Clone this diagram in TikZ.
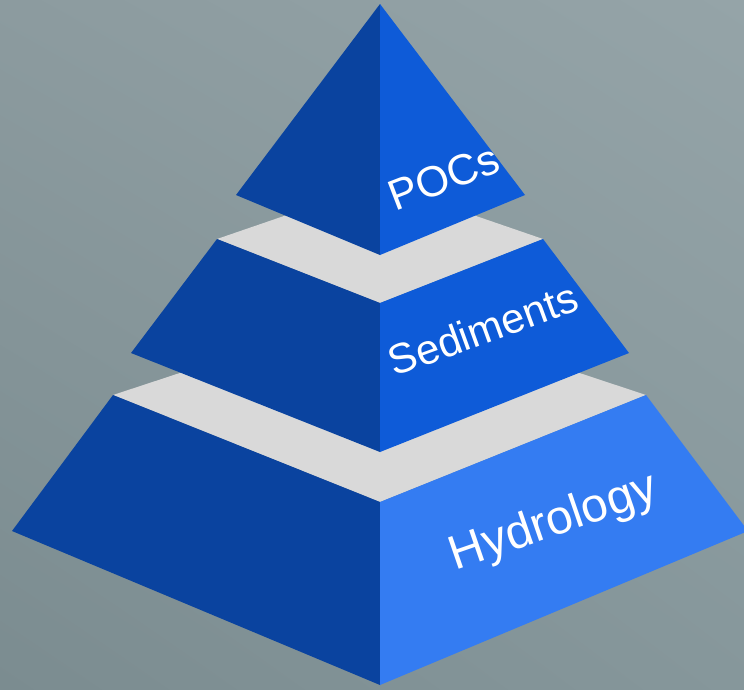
\documentclass[tikz,border=0pt]{standalone}
\usepackage{fontspec}
\setmainfont{Liberation Sans}
\usetikzlibrary{shadings}
\begin{document}
\begin{tikzpicture}[x=1pt,y=-1pt,
  leftface/.style={fill=darkblue},
  rightface/.style={fill=midblue},
  ledge/.style={fill=ledgegray},
  tierlabel/.style={text=white,anchor=base,inner sep=0pt}]
\definecolor{darkblue}{HTML}{0A439F}
\definecolor{midblue}{HTML}{0E5BD8}
\definecolor{lightblue}{HTML}{347CF2}
\definecolor{ledgegray}{HTML}{D9D9D9}
\definecolor{bgA}{HTML}{8C9B9F}
\definecolor{bgB}{HTML}{95A4A8}
\definecolor{bgC}{HTML}{7B8C90}
\definecolor{bgD}{HTML}{86979B}
\useasboundingbox (0,0) rectangle (744,689);
\clip (0,0) rectangle (744,689);
\shade[upper left=bgA,upper right=bgB,lower left=bgC,lower right=bgD] (0,0) rectangle (744,689);

% bottom tier
\coordinate (c3tl) at (113,395);
\coordinate (c3tb) at (380,307);
\coordinate (c3tr) at (646,395);
\coordinate (c3tf) at (380,502);
\coordinate (c3bl) at (12,531);
\coordinate (c3bf) at (380,685);
\coordinate (c3br) at (748,531);
\path[ledge] (c3tl) -- (c3tb) -- (c3tr) -- (c3tf) -- cycle;
\path[leftface] (c3tl) -- (c3tf) -- (c3bf) -- (c3bl) -- cycle;
\path[fill=lightblue] (c3tf) -- (c3tr) -- (c3br) -- (c3bf) -- cycle;

% middle tier
\coordinate (c2tl) at (217,239);
\coordinate (c2tb) at (380,183);
\coordinate (c2tr) at (543,239);
\coordinate (c2tf) at (380,303);
\coordinate (c2bl) at (131,353);
\coordinate (c2bf) at (380,452);
\coordinate (c2br) at (629,353);
\path[ledge] (c2tl) -- (c2tb) -- (c2tr) -- (c2tf) -- cycle;
\path[leftface] (c2tl) -- (c2tf) -- (c2bf) -- (c2bl) -- cycle;
\path[rightface] (c2tf) -- (c2tr) -- (c2br) -- (c2bf) -- cycle;

% top tier
\coordinate (c1a) at (380,4);
\coordinate (c1l) at (236,195);
\coordinate (c1f) at (380,255);
\coordinate (c1r) at (525,195);
\path[leftface] (c1a) -- (c1f) -- (c1l) -- cycle;
\path[rightface] (c1a) -- (c1r) -- (c1f) -- cycle;

% labels
\node[tierlabel,rotate=21,font=\fontsize{43}{50}\selectfont] (pocs) at (449,191) {POCs};
\node[tierlabel,rotate=20,font=\fontsize{42}{50}\selectfont] (sediments) at (488,343) {Sediments};
\node[tierlabel,rotate=19,font=\fontsize{48}{56}\selectfont] (hydrology) at (558,535) {Hydrology};
\end{tikzpicture}
\end{document}
